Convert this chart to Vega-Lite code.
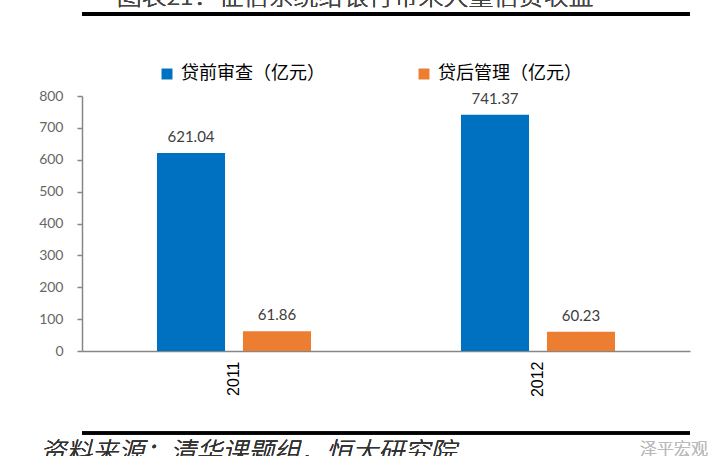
{
  "$schema": "https://vega.github.io/schema/vega-lite/v6.json",
  "autosize": {"type": "none"},
  "width": 608,
  "height": 255,
  "padding": {"left": 82, "top": 96, "right": 20, "bottom": 105},
  "background": "white",
  "config": {"view": {"stroke": null}},
  "data": {
    "values": [
      {"year": "2011", "series": "贷前审查（亿元）", "value": 621.04},
      {"year": "2011", "series": "贷后管理（亿元）", "value": 61.86},
      {"year": "2012", "series": "贷前审查（亿元）", "value": 741.37},
      {"year": "2012", "series": "贷后管理（亿元）", "value": 60.23}
    ]
  },
  "encoding": {
    "y": {
      "field": "value", "type": "quantitative",
      "scale": {"domain": [0, 800], "nice": false, "zero": true},
      "axis": {
        "title": null, "values": [0, 100, 200, 300, 400, 500, 600, 700, 800],
        "labelOverlap": false, "labelFlush": false,
        "grid": false, "labelColor": "#666666", "labelFontSize": 14, "labelFont": "Lato",
        "tickSize": 5, "tickColor": "#868686", "tickWidth": 1.5, "labelPadding": 14,
        "domainColor": "#868686", "domainWidth": 1.5
      }
    }
  },
  "layer": [
    {
      "mark": {"type": "bar"},
      "encoding": {
        "x": {
          "field": "year", "type": "nominal",
          "scale": {"paddingInner": 0, "paddingOuter": 0},
          "axis": {
            "title": null, "labelAngle": -90, "labelColor": "#000000", "labelFontSize": 16,
            "labelFont": "Liberation Sans", "labelPadding": 10, "tickSize": 0,
            "domainColor": "#868686", "domainWidth": 1.5, "labelAlign": "right", "labelBaseline": "middle"
          }
        },
        "xOffset": {
          "field": "series", "type": "nominal",
          "sort": ["贷前审查（亿元）", "贷后管理（亿元）"],
          "scale": {"paddingInner": 0.209, "paddingOuter": 0.872}
        },
        "color": {
          "field": "series", "type": "nominal",
          "scale": {"domain": ["贷前审查（亿元）", "贷后管理（亿元）"], "range": ["#0070C0", "#ED7D31"]},
          "legend": {
            "title": null, "orient": "none", "direction": "horizontal",
            "legendX": 76, "legendY": -31, "symbolType": "square", "symbolSize": 120,
            "labelFontSize": 18, "labelFont": "Noto Sans CJK SC", "labelColor": "#000000",
            "columnPadding": 90, "labelOffset": 5, "labelLimit": 300
          }
        }
      }
    },
    {
      "mark": {"type": "text", "baseline": "bottom", "dy": -8, "fontSize": 15, "font": "Lato", "color": "#404040"},
      "encoding": {
        "x": {"field": "year", "type": "nominal"},
        "xOffset": {"field": "series", "type": "nominal", "sort": ["贷前审查（亿元）", "贷后管理（亿元）"]},
        "text": {"field": "value", "type": "quantitative", "format": ".2f"}
      }
    },
    {
      "mark": {"type": "rule", "color": "#000000", "strokeWidth": 4},
      "encoding": {"y": {"datum": 1057, "type": "quantitative"}}
    },
    {
      "mark": {"type": "rule", "color": "#000000", "strokeWidth": 3},
      "encoding": {"y": {"datum": -257, "type": "quantitative"}}
    },
    {
      "mark": {"type": "text", "align": "center", "baseline": "alphabetic", "dx": -31, "fontSize": 25, "fontWeight": 300, "font": "Noto Sans CJK SC", "color": "#444444"},
      "encoding": {"y": {"datum": 1086, "type": "quantitative"}, "text": {"value": "图表21：征信系统给银行带来大量信贷收益"}}
    },
    {
      "mark": {"type": "text", "align": "left", "baseline": "top", "dx": -346, "fontSize": 26, "fontWeight": 300, "fontStyle": "italic", "font": "Noto Sans CJK SC", "color": "#333333"},
      "encoding": {"y": {"datum": -279, "type": "quantitative"}, "text": {"value": "资料来源：清华课题组，恒大研究院"}}
    },
    {
      "mark": {"type": "text", "align": "left", "baseline": "top", "dx": 254, "fontSize": 17, "fontWeight": 300, "font": "Noto Sans CJK SC", "color": "#bbbbbb"},
      "encoding": {"y": {"datum": -286, "type": "quantitative"}, "text": {"value": "泽平宏观"}}
    }
  ]
}
